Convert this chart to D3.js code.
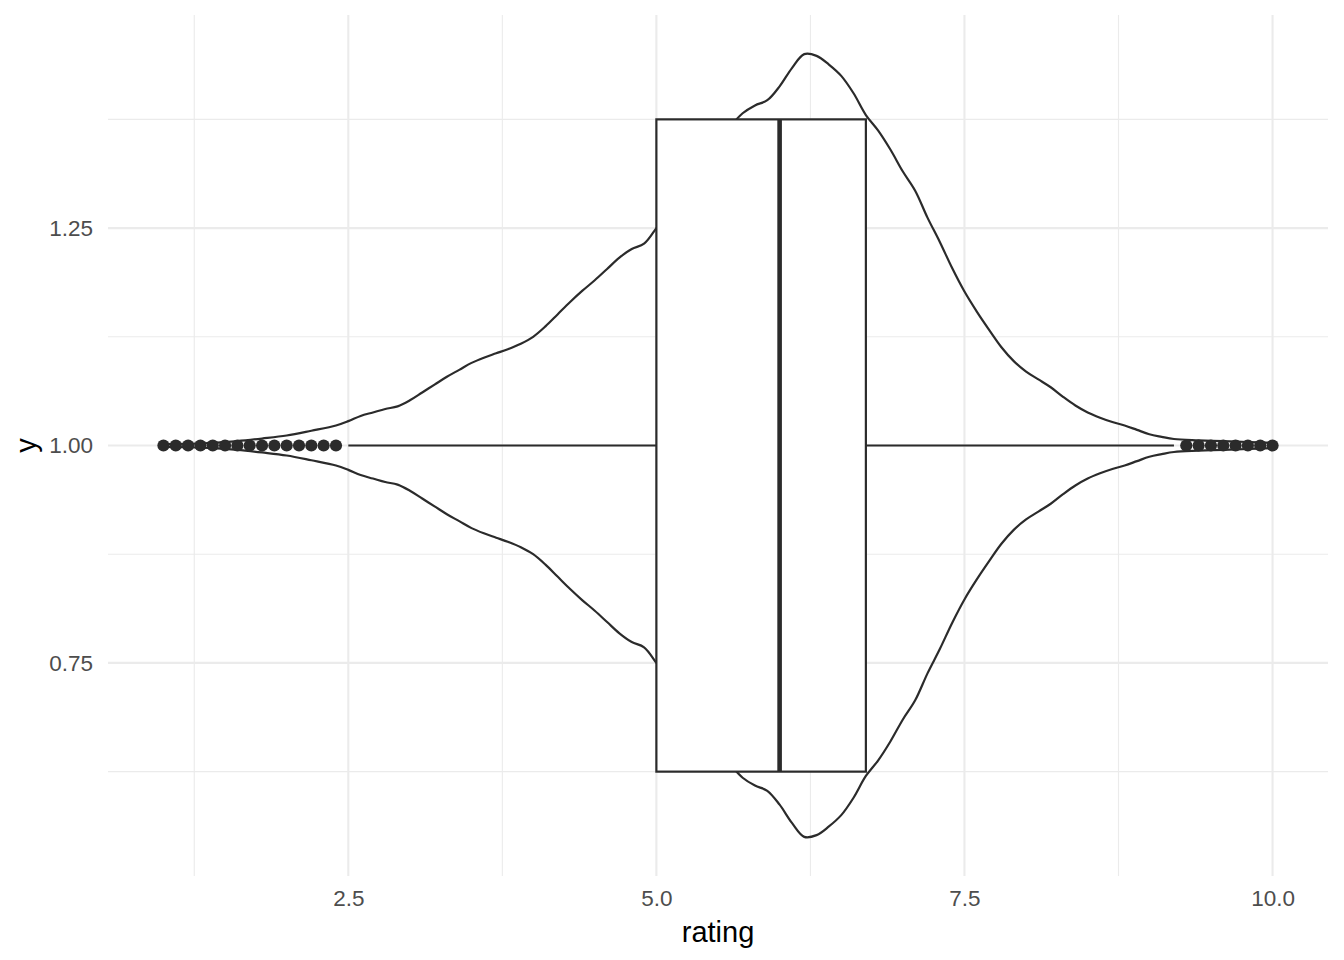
<!DOCTYPE html>
<html>
<head>
<meta charset="utf-8">
<script src="https://cdn.jsdelivr.net/npm/d3@7"></script>
<style>
  html, body { margin: 0; padding: 0; background: #ffffff; }
  svg { display: block; font-family: "Liberation Sans", Arial, Helvetica, sans-serif; }
</style>
</head>
<body>
<svg id="chart" width="1344" height="960"></svg>
<script>
// ---- data ----
const violinRating = [1.0, 1.2, 1.4, 1.6, 1.8, 2.0, 2.2, 2.4, 2.5, 2.6, 2.7, 2.8, 2.9, 3.0, 3.1, 3.2, 3.3, 3.4, 3.5, 3.6, 3.7, 3.8, 3.9, 4.0, 4.1, 4.2, 4.3, 4.4, 4.5, 4.6, 4.7, 4.8, 4.9, 5.0, 5.1, 5.2, 5.3, 5.4, 5.5, 5.6, 5.7, 5.8, 5.9, 6.0, 6.1, 6.2, 6.3, 6.4, 6.5, 6.6, 6.7, 6.8, 6.9, 7.0, 7.1, 7.2, 7.3, 7.4, 7.5, 7.6, 7.7, 7.8, 7.9, 8.0, 8.1, 8.2, 8.3, 8.4, 8.5, 8.6, 8.7, 8.8, 8.9, 9.0, 9.1, 9.2, 9.4, 9.6, 9.8, 10.0];
const violinHalfWidth = [0.0015, 0.002, 0.003, 0.005, 0.008, 0.0115, 0.017, 0.023, 0.028, 0.034, 0.038, 0.042, 0.045, 0.052, 0.061, 0.070, 0.079, 0.087, 0.095, 0.101, 0.106, 0.111, 0.117, 0.125, 0.137, 0.151, 0.165, 0.178, 0.190, 0.203, 0.216, 0.226, 0.232, 0.250, 0.270, 0.290, 0.310, 0.330, 0.350, 0.367, 0.382, 0.391, 0.397, 0.413, 0.434, 0.450, 0.448, 0.438, 0.425, 0.405, 0.380, 0.362, 0.340, 0.315, 0.293, 0.262, 0.234, 0.204, 0.177, 0.154, 0.133, 0.113, 0.097, 0.085, 0.076, 0.067, 0.056, 0.046, 0.038, 0.032, 0.027, 0.023, 0.018, 0.013, 0.010, 0.0075, 0.006, 0.005, 0.004, 0.003];

const boxQ1 = 5.0;
const boxMedian = 6.0;
const boxQ3 = 6.7;
const whiskerLow = 2.5;
const whiskerHigh = 9.2;
const boxCenter = 1.0;
const boxHalfWidth = 0.375;
const outliers = [1.0, 1.1, 1.2, 1.3, 1.4, 1.5, 1.6, 1.7, 1.8, 1.9, 2.0, 2.1, 2.2, 2.3, 2.4, 9.3, 9.4, 9.5, 9.6, 9.7, 9.8, 9.9, 10.0];

const xMajorTicks = [2.5, 5.0, 7.5, 10.0];
const xMinorTicks = [1.25, 3.75, 6.25, 8.75];
const yMajorTicks = [0.75, 1.00, 1.25];
const yMinorTicks = [0.625, 0.875, 1.125, 1.375];
const xTitle = "rating";
const yTitle = "y";

// ---- layout ----
const panel = { left: 108, right: 1328, top: 15, bottom: 876 };
const ink = "#2b2b2b";

const x = d3.scaleLinear().domain([0.55, 10.45]).range([panel.left, panel.right]);
const y = d3.scaleLinear().domain([0.505, 1.495]).range([panel.bottom, panel.top]);

const svg = d3.select("#chart");
svg.append("rect").attr("width", 1344).attr("height", 960).attr("fill", "#ffffff");

// grid
const grid = svg.append("g");
grid.selectAll("line.ymin").data(yMinorTicks).join("line")
  .attr("x1", panel.left).attr("x2", panel.right)
  .attr("y1", d => y(d)).attr("y2", d => y(d))
  .attr("stroke", "#EBEBEB").attr("stroke-width", 1.1);
grid.selectAll("line.xmin").data(xMinorTicks).join("line")
  .attr("y1", panel.top).attr("y2", panel.bottom)
  .attr("x1", d => x(d)).attr("x2", d => x(d))
  .attr("stroke", "#EBEBEB").attr("stroke-width", 1.1);
grid.selectAll("line.ymaj").data(yMajorTicks).join("line")
  .attr("x1", panel.left).attr("x2", panel.right)
  .attr("y1", d => y(d)).attr("y2", d => y(d))
  .attr("stroke", "#EBEBEB").attr("stroke-width", 2.1);
grid.selectAll("line.xmaj").data(xMajorTicks).join("line")
  .attr("y1", panel.top).attr("y2", panel.bottom)
  .attr("x1", d => x(d)).attr("x2", d => x(d))
  .attr("stroke", "#EBEBEB").attr("stroke-width", 2.1);

// violin (outline only)
const violinData = violinRating.map((r, i) => ({ r, h: violinHalfWidth[i] }));
const area = d3.area()
  .x(d => x(d.r))
  .y0(d => y(boxCenter - d.h))
  .y1(d => y(boxCenter + d.h))
  .curve(d3.curveCatmullRom.alpha(0.5));
svg.append("path").datum(violinData)
  .attr("d", area)
  .attr("fill", "none")
  .attr("stroke", ink)
  .attr("stroke-width", 2.2)
  .attr("stroke-linejoin", "round");

// boxplot whiskers
const bp = svg.append("g");
bp.append("line")
  .attr("x1", x(whiskerLow)).attr("x2", x(boxQ1))
  .attr("y1", y(boxCenter)).attr("y2", y(boxCenter))
  .attr("stroke", ink).attr("stroke-width", 2.2);
bp.append("line")
  .attr("x1", x(boxQ3)).attr("x2", x(whiskerHigh))
  .attr("y1", y(boxCenter)).attr("y2", y(boxCenter))
  .attr("stroke", ink).attr("stroke-width", 2.2);
// box
bp.append("rect")
  .attr("x", x(boxQ1)).attr("width", x(boxQ3) - x(boxQ1))
  .attr("y", y(boxCenter + boxHalfWidth))
  .attr("height", y(boxCenter - boxHalfWidth) - y(boxCenter + boxHalfWidth))
  .attr("fill", "#ffffff").attr("stroke", ink).attr("stroke-width", 2.2);
// median
bp.append("line")
  .attr("x1", x(boxMedian)).attr("x2", x(boxMedian))
  .attr("y1", y(boxCenter + boxHalfWidth)).attr("y2", y(boxCenter - boxHalfWidth))
  .attr("stroke", ink).attr("stroke-width", 4.6);
// outliers
bp.selectAll("circle").data(outliers).join("circle")
  .attr("cx", d => x(d)).attr("cy", y(boxCenter)).attr("r", 6.1)
  .attr("fill", ink);

// axes
const xAxis = d3.axisBottom(x).tickValues(xMajorTicks).tickSize(0).tickPadding(14)
  .tickFormat(d3.format(".1f"));
const gx = svg.append("g").attr("transform", `translate(0,${panel.bottom})`).call(xAxis);
gx.select(".domain").remove();
gx.selectAll("text").attr("font-size", 22.5).attr("fill", "#4D4D4D")
  .attr("font-family", "'Liberation Sans', Arial, sans-serif");

const yAxis = d3.axisLeft(y).tickValues(yMajorTicks).tickSize(0).tickPadding(15)
  .tickFormat(d3.format(".2f"));
const gy = svg.append("g").attr("transform", `translate(${panel.left},0)`).call(yAxis);
gy.select(".domain").remove();
gy.selectAll("text").attr("font-size", 22.5).attr("fill", "#4D4D4D")
  .attr("font-family", "'Liberation Sans', Arial, sans-serif");

// titles
svg.append("text")
  .attr("x", (panel.left + panel.right) / 2).attr("y", 942)
  .attr("text-anchor", "middle").attr("font-size", 29).attr("fill", "#000")
  .text(xTitle);
svg.append("text")
  .attr("transform", `translate(36,${(panel.top + panel.bottom) / 2}) rotate(-90)`)
  .attr("text-anchor", "middle").attr("font-size", 29).attr("fill", "#000")
  .text(yTitle);
</script>
</body>
</html>
